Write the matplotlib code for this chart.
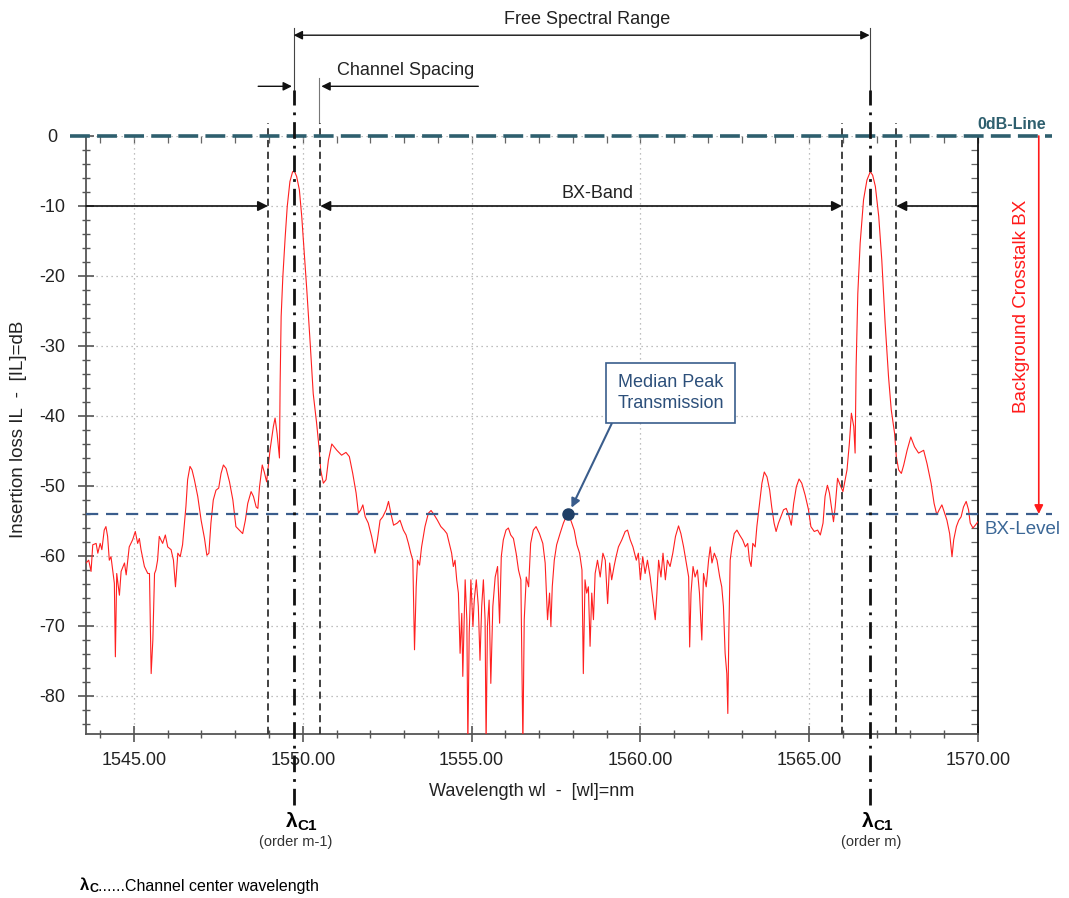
import matplotlib
matplotlib.use('Agg')
import matplotlib.pyplot as plt
from matplotlib.ticker import MultipleLocator, FormatStrFormatter

plt.rcParams['font.family'] = ['Liberation Sans', 'DejaVu Sans']
plt.rcParams['axes.unicode_minus'] = False

# Spektrum (Wellenlaenge in nm, Einfuegedaempfung in dB)
wl = [1543.58, 1543.66, 1543.73, 1543.78, 1543.88, 1543.93, 1544.00, 1544.05, 1544.12, 1544.17,
      1544.22, 1544.27, 1544.32, 1544.42, 1544.45, 1544.49, 1544.57, 1544.62, 1544.72, 1544.77,
      1544.86, 1544.96, 1545.04, 1545.11, 1545.16, 1545.21, 1545.31, 1545.41, 1545.46, 1545.51,
      1545.56, 1545.61, 1545.65, 1545.70, 1545.75, 1545.85, 1545.93, 1546.00, 1546.10, 1546.17,
      1546.23, 1546.30, 1546.37, 1546.44, 1546.54, 1546.59, 1546.66, 1546.72, 1546.79, 1546.89,
      1546.99, 1547.09, 1547.16, 1547.22, 1547.28, 1547.35, 1547.43, 1547.51, 1547.58, 1547.65,
      1547.73, 1547.83, 1547.93, 1548.02, 1548.12, 1548.22, 1548.30, 1548.37, 1548.47, 1548.54,
      1548.62, 1548.67, 1548.72, 1548.80, 1548.86, 1548.93,
      1549.03, 1549.13, 1549.18, 1549.24, 1549.31, 1549.33, 1549.36, 1549.41, 1549.48, 1549.54,
      1549.62, 1549.70, 1549.75, 1549.82, 1549.90, 1549.97, 1550.04, 1550.12, 1550.22, 1550.31,
      1550.41, 1550.49, 1550.53, 1550.61, 1550.69, 1550.76, 1550.86, 1551.01, 1551.15, 1551.28,
      1551.38,
      1551.48, 1551.58, 1551.65, 1551.72, 1551.78, 1551.85, 1551.94, 1552.04, 1552.14, 1552.21,
      1552.29, 1552.37, 1552.47, 1552.54, 1552.61, 1552.69, 1552.80, 1552.88, 1552.98, 1553.06,
      1553.13, 1553.20, 1553.26, 1553.31, 1553.36, 1553.40, 1553.46, 1553.52, 1553.62, 1553.72,
      1553.80, 1553.89, 1553.99, 1554.09, 1554.19, 1554.27, 1554.34, 1554.41, 1554.46, 1554.51,
      1554.56, 1554.61, 1554.66, 1554.71, 1554.74, 1554.78, 1554.81, 1554.86, 1554.89, 1554.93,
      1554.98, 1555.04, 1555.08, 1555.14, 1555.20, 1555.25, 1555.30, 1555.35, 1555.40, 1555.43,
      1555.47, 1555.52, 1555.57, 1555.63, 1555.70, 1555.77, 1555.83, 1555.88, 1555.94, 1556.02,
      1556.09, 1556.16, 1556.24, 1556.32,
      1556.39, 1556.46, 1556.52, 1556.56, 1556.62, 1556.69, 1556.75, 1556.83, 1556.91, 1557.01,
      1557.11, 1557.18, 1557.25, 1557.31, 1557.35, 1557.39, 1557.45, 1557.52, 1557.62, 1557.72,
      1557.80, 1557.87, 1557.94, 1558.04, 1558.12, 1558.20, 1558.27, 1558.31, 1558.36, 1558.41,
      1558.46, 1558.51, 1558.56, 1558.61, 1558.66, 1558.73, 1558.81, 1558.89, 1558.96, 1559.03,
      1559.09, 1559.15, 1559.22, 1559.28, 1559.35, 1559.45, 1559.55, 1559.62, 1559.70, 1559.78,
      1559.88, 1559.94, 1560.00, 1560.07, 1560.14, 1560.21, 1560.29, 1560.37, 1560.44, 1560.49,
      1560.54, 1560.61, 1560.67, 1560.74, 1560.80, 1560.88, 1560.96, 1561.04, 1561.13, 1561.20,
      1561.28, 1561.36, 1561.43, 1561.46, 1561.50, 1561.56, 1561.62, 1561.69, 1561.75, 1561.82,
      1561.87, 1561.95, 1562.02, 1562.07, 1562.12, 1562.19, 1562.27, 1562.35, 1562.41, 1562.46,
      1562.51, 1562.56, 1562.59, 1562.62, 1562.66, 1562.71, 1562.78, 1562.86, 1562.94,
      1563.03, 1563.11, 1563.18, 1563.23, 1563.28, 1563.33, 1563.40, 1563.45, 1563.53, 1563.60,
      1563.67, 1563.75, 1563.83, 1563.89, 1563.96, 1564.02, 1564.09, 1564.16, 1564.24, 1564.32,
      1564.39, 1564.47, 1564.54, 1564.62, 1564.70, 1564.78, 1564.88, 1564.98, 1565.05, 1565.15,
      1565.25, 1565.33, 1565.41, 1565.47, 1565.54, 1565.60, 1565.67, 1565.72, 1565.77, 1565.84,
      1565.92, 1566.00,
      1566.12, 1566.19, 1566.25, 1566.32, 1566.36, 1566.39, 1566.44, 1566.51, 1566.61, 1566.71,
      1566.81, 1566.88, 1566.96, 1567.06, 1567.15, 1567.25, 1567.35, 1567.43, 1567.53, 1567.58,
      1567.65, 1567.73, 1567.80, 1567.90, 1568.01, 1568.12, 1568.24, 1568.39, 1568.49,
      1568.61, 1568.70, 1568.78, 1568.85, 1568.93, 1569.00, 1569.08, 1569.16, 1569.23, 1569.28,
      1569.36, 1569.43, 1569.50, 1569.57, 1569.65, 1569.72, 1569.77, 1569.85, 1569.92, 1570.00]

il = [-61.0, -60.6, -62.2, -58.4, -58.2, -59.6, -58.2, -59.1, -56.3, -55.8,
      -57.2, -60.6, -60.1, -63.9, -74.4, -62.5, -65.6, -62.2, -61.0, -62.7,
      -58.7, -57.7, -56.5, -58.2, -57.5, -59.1, -61.5, -62.5, -62.5, -76.8,
      -72.0, -62.5, -62.0, -60.6, -57.2, -58.2, -57.0, -58.7, -59.1, -60.6,
      -64.4, -59.6, -60.1, -58.4, -52.9, -49.1, -47.2, -47.7, -49.1, -51.5,
      -54.9, -57.5, -59.9, -59.6, -55.3, -52.0, -50.6, -50.3, -48.2, -47.0,
      -47.5, -49.4, -52.0, -55.8, -56.3, -56.8, -54.9, -52.5, -50.8, -51.5,
      -53.0, -53.2, -50.1, -47.0, -48.0, -49.4,
      -44.9, -41.5, -40.3, -42.5, -46.0, -35.3, -25.8, -20.1, -14.4, -10.1,
      -6.5, -5.1, -5.0, -5.8, -7.7, -11.5, -16.3, -22.0, -29.6, -36.8,
      -41.0, -44.9, -47.7, -49.6, -49.1, -46.3, -44.0, -44.9, -45.6, -45.2,
      -45.8,
      -48.2, -51.0, -53.9, -53.4, -52.7, -54.4, -55.3, -57.2, -59.6, -57.7,
      -54.9, -54.4, -53.4, -52.2, -53.9, -55.6, -55.3, -54.9, -56.3, -57.0,
      -58.2, -59.6, -60.6, -73.4, -64.4, -60.6, -61.3, -58.7, -55.8, -53.9,
      -53.5, -54.1, -54.9, -55.8, -56.3, -56.8, -58.2, -59.6, -61.5, -60.6,
      -63.4, -65.3, -73.9, -68.2, -77.2, -69.1, -63.4, -69.1, -87.0, -71.0,
      -63.4, -70.1, -66.3, -63.4, -67.2, -74.9, -67.2, -63.4, -69.1, -87.0,
      -70.1, -66.3, -78.2, -67.2, -63.0, -61.5, -69.6, -60.1, -57.7, -56.3,
      -56.0, -57.0, -57.5, -59.6,
      -62.0, -63.4, -87.0, -69.1, -63.0, -64.4, -58.2, -56.3, -55.8, -56.8,
      -58.2, -61.0, -69.1, -65.3, -70.1, -64.4, -60.6, -58.4, -56.8, -55.3,
      -54.4, -54.0, -54.9, -56.3, -58.4, -59.6, -62.0, -76.8, -63.4, -65.3,
      -64.4, -72.9, -65.3, -69.1, -62.5, -60.6, -63.0, -59.6, -60.6, -66.8,
      -61.0, -63.4, -61.5, -60.1, -58.7, -57.7, -56.5, -56.3, -57.7, -58.7,
      -60.6, -59.6, -63.4, -60.1, -62.5, -60.6, -63.0, -66.3, -69.1, -65.3,
      -60.6, -63.0, -59.6, -63.4, -60.6, -61.5, -59.6, -57.2, -55.7, -56.8,
      -58.7, -61.0, -63.0, -73.0, -65.3, -61.5, -63.0, -62.0, -65.3, -72.0,
      -62.5, -64.4, -60.6, -58.7, -61.0, -59.6, -60.6, -63.0, -64.4, -67.2,
      -73.9, -76.8, -82.5, -71.0, -60.6, -58.7, -56.8, -56.3, -57.0,
      -57.7, -58.7, -58.2, -60.6, -61.5, -58.2, -58.7, -55.8, -52.5, -49.6,
      -48.0, -48.7, -50.6, -53.0, -55.3, -56.5, -55.3, -54.4, -53.4, -53.2,
      -54.1, -55.6, -52.5, -50.1, -49.0, -49.6, -51.3, -53.4, -55.8, -56.5,
      -56.3, -57.0, -55.3, -51.5, -49.9, -51.0, -53.4, -55.1, -53.0, -48.9,
      -49.9, -50.8,
      -47.7, -43.9, -39.6, -41.5, -45.3, -33.0, -22.5, -15.3, -9.1, -6.3,
      -5.1, -5.6, -7.2, -11.5, -17.7, -26.8, -34.4, -39.1, -42.5, -45.8,
      -47.7, -48.2, -47.0, -44.9, -43.0, -44.4, -45.3, -44.9, -46.8,
      -49.6, -52.5, -54.1, -53.4, -52.7, -53.7, -54.9, -56.8, -60.1, -57.7,
      -55.8, -54.9, -54.4, -53.0, -52.2, -53.4, -55.3, -56.0, -55.6, -55.1]

# Markierungen
kanal_m1 = 1549.73       # lambda_C1, Ordnung m-1
kanal_m = 1566.79        # lambda_C1, Ordnung m
band_m1 = [1548.97, 1550.52]
band_m = [1565.97, 1567.58]
bx_level = -54.0
median_peak = (1557.87, -54.0)
x_ticks = [1545, 1550, 1555, 1560, 1565, 1570]
y_ticks = [0, -10, -20, -30, -40, -50, -60, -70, -80]
x_min, x_max = 1543.58, 1570.0
y_min, y_max = -85.43, 0.0

W, H = 1069, 898
fig = plt.figure(figsize=(W / 100, H / 100), dpi=100)
ax = fig.add_axes([86 / W, 1 - 734 / H, (978 - 86) / W, (734 - 136) / H])

ax.plot(wl, il, color='#ff2020', lw=0.8, zorder=3)

ax.set_xlim(x_min, x_max)
ax.set_ylim(y_min, y_max)
ax.set_xticks(x_ticks)
ax.set_yticks(y_ticks)
ax.xaxis.set_minor_locator(MultipleLocator(1))
ax.yaxis.set_minor_locator(MultipleLocator(2))
ax.xaxis.set_major_formatter(FormatStrFormatter('%.2f'))
ax.grid(True, which='major', color='#aaaaaa', ls=(0, (1, 3)), lw=0.9)

ax.tick_params(axis='both', which='major', direction='inout', length=12, width=1.2,
               color='#555555', labelsize=13, labelcolor='#222222')
ax.tick_params(axis='both', which='minor', direction='inout', length=6, width=1.0, color='#555555')
ax.tick_params(axis='x', which='major', pad=7)
ax.tick_params(axis='y', which='major', pad=18)
for lab in ax.get_yticklabels():
    lab.set_ha('center')

for s in ['left', 'bottom']:
    ax.spines[s].set_color('#555555')
    ax.spines[s].set_linewidth(1.3)
ax.spines['right'].set_color('#111111')
ax.spines['right'].set_linewidth(1.3)
ax.spines['top'].set_visible(False)

# kleine Striche oben und rechts (nach innen)
top = ax.secondary_xaxis('top')
top.set_xticks(x_ticks)
top.xaxis.set_minor_locator(MultipleLocator(1))
top.tick_params(which='both', direction='in', length=5, width=0.9, color='#666666', labeltop=False)
top.spines['top'].set_visible(False)
right = ax.secondary_yaxis('right')
right.set_yticks(y_ticks)
right.yaxis.set_minor_locator(MultipleLocator(2))
right.tick_params(which='both', direction='in', length=5, width=0.9, color='#666666', labelright=False)
right.spines['right'].set_visible(False)

ax.set_xlabel('Wavelength wl  -  [wl]=nm', fontsize=13, color='#222222', labelpad=10)
ax.set_ylabel('Insertion loss IL  -  [IL]=dB', fontsize=13.5, color='#222222')
ax.yaxis.set_label_coords(-0.066, 0.51)

# 0dB-Linie und BX-Level
ax.plot([1543.1, 1572.2], [0, 0], color='#2e5f6e', lw=2.6, ls=(0, (5.5, 2)), clip_on=False, zorder=5)
ax.text(1571.0, 0.6, '0dB-Line', color='#2e5f6e', fontsize=11.5, fontweight='bold',
        ha='center', va='bottom')
ax.plot([x_min, 1572.2], [bx_level, bx_level], color='#3a5d8c', lw=1.6, ls=(0, (5.5, 3.5)),
        clip_on=False, zorder=5)
ax.text(1570.2, -56.2, 'BX-Level', color='#3b6796', fontsize=13.5, ha='left', va='center')

# vertikale Linien
for xv in band_m1 + band_m:
    ax.plot([xv, xv], [y_min, 1.9], color='#333333', lw=1.3, ls=(0, (4, 2.5)), clip_on=False, zorder=4)
for xv in [kanal_m1, kanal_m]:
    ax.plot([xv, xv], [-95.6, 6.6], color='#111111', lw=2.0, ls=(0, (6, 2.5, 1, 2.5)),
            clip_on=False, zorder=6)
    ax.plot([xv, xv], [6.6, 15.4], color='#444444', lw=0.8, clip_on=False)

# Free Spectral Range
ax.annotate('', xy=(kanal_m, 14.4), xytext=(kanal_m1, 14.4), annotation_clip=False,
            arrowprops=dict(arrowstyle='<|-|>', color='#111111', lw=1.0, mutation_scale=13,
                            shrinkA=0, shrinkB=0))
ax.text(1558.43, 16.6, 'Free Spectral Range', fontsize=13, ha='center', va='center', color='#222222')

# Channel Spacing
ax.plot([1550.49, 1550.49], [1.9, 8.3], color='#777777', lw=0.8, clip_on=False)
ax.annotate('', xy=(1549.68, 7.1), xytext=(1548.68, 7.1), annotation_clip=False,
            arrowprops=dict(arrowstyle='-|>', color='#111111', lw=1.0, mutation_scale=13,
                            shrinkA=0, shrinkB=0))
ax.annotate('', xy=(1550.55, 7.1), xytext=(1555.2, 7.1), annotation_clip=False,
            arrowprops=dict(arrowstyle='-|>', color='#111111', lw=1.0, mutation_scale=13,
                            shrinkA=0, shrinkB=0))
ax.text(1551.02, 9.3, 'Channel Spacing', fontsize=13, ha='left', va='center', color='#222222')

# BX-Band
pfeil = dict(arrowstyle='-|>', color='#111111', lw=1.2, mutation_scale=15, shrinkA=0, shrinkB=0)
ax.annotate('', xy=(band_m1[0], -10), xytext=(x_min, -10), arrowprops=pfeil, zorder=7)
ax.annotate('', xy=(band_m[1], -10), xytext=(x_max, -10), arrowprops=pfeil, zorder=7)
ax.annotate('', xy=(band_m[0], -10), xytext=(band_m1[1], -10), zorder=7,
            arrowprops=dict(arrowstyle='<|-|>', color='#111111', lw=1.2, mutation_scale=15,
                            shrinkA=0, shrinkB=0))
ax.text(1558.73, -8.2, 'BX-Band', fontsize=13, ha='center', va='center', color='#222222')

# Background Crosstalk BX
ax.annotate('', xy=(1571.8, bx_level), xytext=(1571.8, 0), annotation_clip=False,
            arrowprops=dict(arrowstyle='-|>', color='#ff1a1a', lw=1.2, mutation_scale=13,
                            shrinkA=0, shrinkB=0))
ax.text(1571.3, -24.4, 'Background Crosstalk BX', color='#ff1a1a', fontsize=13.5,
        rotation=90, ha='center', va='center')

# Median Peak Transmission
ax.plot(*median_peak, 'o', color='#1f3f66', ms=8, zorder=8)
ax.annotate('Median Peak\nTransmission', xy=median_peak, xytext=(1560.89, -36.7),
            fontsize=13, color='#2c4f7a', ha='center', va='center', linespacing=1.35,
            bbox=dict(boxstyle='square,pad=0.6', fc='white', ec='#3a5d8c', lw=1.2),
            arrowprops=dict(arrowstyle='-|>', color='#3a5d8c', lw=1.5, mutation_scale=13,
                            shrinkA=0, shrinkB=5, relpos=(0.0, 0.0)), zorder=8)

# lambda_C1 Beschriftungen
for xv, txt in [(kanal_m1, '(order m-1)'), (kanal_m, '(order m)')]:
    ax.annotate('λ', xy=(xv, -98.0), xytext=(3, 0), textcoords='offset points', fontsize=15,
                fontweight='bold', ha='right', va='center', annotation_clip=False)
    ax.annotate('C1', xy=(xv, -98.0), xytext=(3, -3), textcoords='offset points', fontsize=11,
                fontweight='bold', ha='left', va='center', annotation_clip=False)
    ax.text(xv + 0.05, -100.8, txt, fontsize=10.5, ha='center', va='center', color='#333333',
            clip_on=False)

fig.text(80 / W, 1 - 886 / H, 'λ', fontsize=12, fontweight='bold', ha='left', va='center')
fig.text(90 / W, 1 - 889 / H, 'C', fontsize=9, fontweight='bold', ha='left', va='center')
fig.text(98 / W, 1 - 886 / H, '......Channel center wavelength', fontsize=11.5, ha='left', va='center')

fig.savefig('out.png', dpi=100)
